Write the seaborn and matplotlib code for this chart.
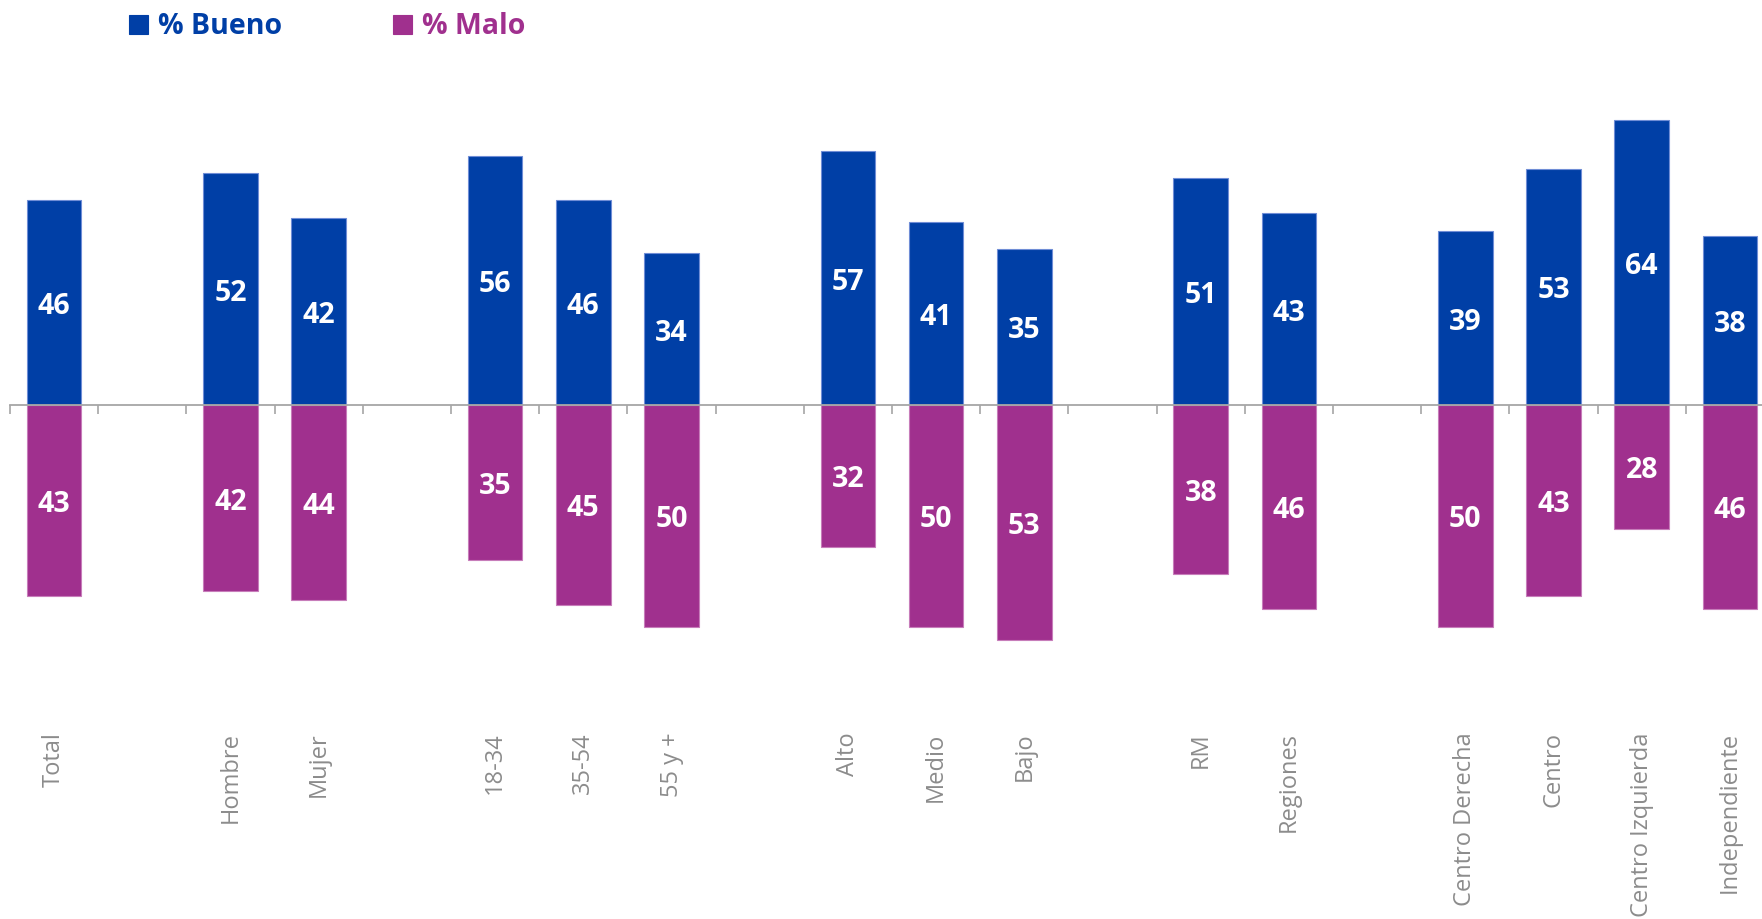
import numpy as np
import pandas as pd
import matplotlib
matplotlib.use("Agg")
import matplotlib.pyplot as plt
import seaborn as sns

# Data (groups separated by empty slots)
groups = [
    ["Total"],
    ["Hombre", "Mujer"],
    ["18-34", "35-54", "55 y +"],
    ["Alto", "Medio", "Bajo"],
    ["RM", "Regiones"],
    ["Centro Derecha", "Centro", "Centro Izquierda", "Independiente"],
]
bueno = [46, 52, 42, 56, 46, 34, 57, 41, 35, 51, 43, 39, 53, 64, 38]
malo = [43, 42, 44, 35, 45, 50, 32, 50, 53, 38, 46, 50, 43, 28, 46]

BLUE = "#003FA6"
PURPLE = "#A0308E"
GREY = "#8C8C8C"

# Build slot order with spacer slots between groups
order = []
tick_labels = []
for i, g in enumerate(groups):
    if i > 0:
        order.append(f"_sp{i}")
        tick_labels.append("")
    order.extend(g)
    tick_labels.extend(g)
categories = [c for g in groups for c in g]

df = pd.DataFrame({"Categoria": categories, "Bueno": bueno, "Malo": malo})
df["MaloNeg"] = -df["Malo"]

sns.set_theme(style="white")
plt.rcParams["font.family"] = ["Open Sans", "DejaVu Sans"]

fig = plt.figure(figsize=(17.62, 9.19), dpi=100)
ax = fig.add_axes([10 / 1762, 1 - 698 / 919, 1764 / 1762, 618 / 919])

sns.barplot(data=df, x="Categoria", y="Bueno", order=order, color=BLUE,
            saturation=1, width=0.62, edgecolor="#6F8DD6", linewidth=0.8, ax=ax)
sns.barplot(data=df, x="Categoria", y="MaloNeg", order=order, color=PURPLE,
            saturation=1, width=0.62, edgecolor="#C77DBA", linewidth=0.8, ax=ax)

# Value labels in the middle of each bar (nudged down slightly)
for cont, vals in zip(ax.containers, [bueno, malo]):
    anns = ax.bar_label(cont, labels=[str(v) for v in vals], label_type="center",
                        color="white", fontsize=20.5, fontweight="bold")
    for a in anns:
        a.xyann = (0, -3)

ax.set_xlim(-0.5, 19.5)
ax.set_ylim(-66, 73)
ax.set_xlabel("")
ax.set_ylabel("")
ax.set_yticks([])

for s in ["top", "right", "left"]:
    ax.spines[s].set_visible(False)
ax.spines["bottom"].set_position(("data", 0))
ax.spines["bottom"].set_color("#A6A6A6")
ax.spines["bottom"].set_linewidth(1.3)

ax.set_xticks(range(len(order)))
ax.set_xticklabels(tick_labels, rotation=90, color=GREY, fontsize=17)
ax.tick_params(axis="x", which="major", length=0, pad=236)
ax.set_xticks(np.arange(-0.5, len(order), 1.0), minor=True)
ax.tick_params(axis="x", which="minor", length=6.5, width=1.2,
               color="#A6A6A6", direction="out", bottom=True)

# Legend at the top
handles = [ax.containers[0].patches[0], ax.containers[1].patches[0]]
leg = fig.legend(handles, ["% Bueno", "% Malo"], loc="center left",
                 bbox_to_anchor=(118 / 1762, 1 - 27 / 919), ncol=2,
                 frameon=False, fontsize=20.5, handlelength=0.66, handleheight=0.66,
                 handletextpad=0.35, columnspacing=3.9, borderaxespad=0)
for txt, col in zip(leg.get_texts(), [BLUE, PURPLE]):
    txt.set_color(col)
    txt.set_fontweight("bold")
for h, col in zip(leg.legend_handles, [BLUE, PURPLE]):
    h.set_edgecolor(col)

fig.savefig("out.png", dpi=100, facecolor="white")
